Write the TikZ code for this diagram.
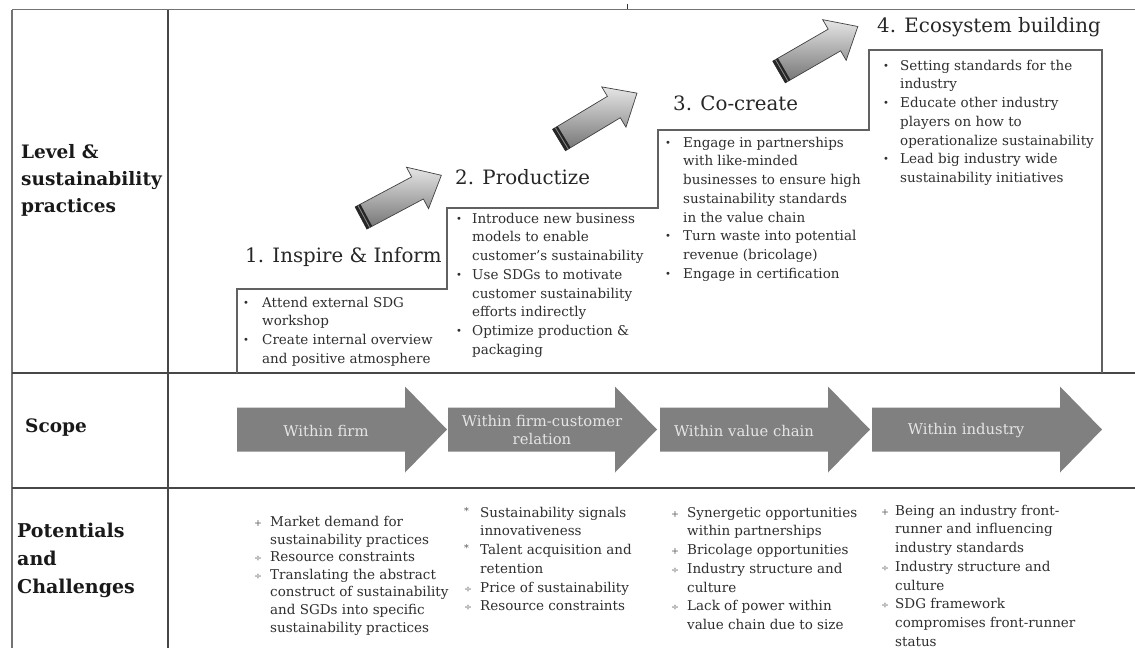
\documentclass[tikz,border=0pt]{standalone}
\usepackage{fontspec}
\setmainfont{DejaVu Serif}
\newcommand\bu[1]{\makebox[#1pt][l]{\raisebox{0.8pt}{\fontsize{10}{10}\selectfont •}}}
\newcommand\ix[1]{\hspace*{#1pt}}
\newcommand\bs[2]{\makebox[#1pt][l]{\hspace*{1pt}\color{black!65}\fontsize{9.5}{10}\selectfont #2}}
\begin{document}
\begin{tikzpicture}[x=1pt,y=-1pt,
  tbl/.style={line width=1.3pt, draw=black!55},
  heavyrule/.style={line width=2.4pt, draw=black!72},
  stair/.style={line width=1.1pt, draw=black!62},
  steptitle/.style={font=\fontsize{19.8}{24}\selectfont, text=black!85, inner sep=0pt, anchor=base west},
  blist/.style={font=\fontsize{13.5}{18.7}\selectfont, text=black!82, inner sep=0pt, anchor=north west},
  blistc/.style={font=\fontsize{13.5}{17.6}\selectfont, text=black!82, inner sep=0pt, anchor=north west},
  rowlabel/.style={font=\fontsize{18.5}{27}\selectfont\bfseries, text=black!90, inner sep=0pt, align=left, anchor=west},
  scopearrow/.style={fill=black!50},
  scopetext/.style={font=\fontsize{14.8}{18.5}\selectfont, text=white!90!black, align=center, inner sep=0pt},
  pics/diagarrow/.style={code={
    \shade[draw=black!75, line width=0.7pt, top color=white!90!black, bottom color=black!55]
      (0,-12.5) -- (64,-12.5) -- (64,-23.5) -- (91,0) -- (64,23.5) -- (64,12.5) -- (0,12.5) -- cycle;
    \fill[black!85] (0,-12.5) rectangle (6,12.5);
    \draw[black!45, line width=0.8pt] (3.2,-12.5) -- (3.2,12.5);
  }},
]
\useasboundingbox (0,0) rectangle (1135,648);

% table
\draw[tbl] (12,9.5) -- (1135,9.5);
\draw[tbl] (12,9.5) -- (12,648);
\draw[heavyrule] (168,9.5) -- (168,648);
\draw[heavyrule] (12,373) -- (1135,373);
\draw[heavyrule] (12,488) -- (1135,488);
\draw[black!80, line width=1pt] (627,4) -- (627,9);

% row labels
\node[rowlabel] (lab1) at (21,180) {Level \&\\sustainability\\practices};
\node[rowlabel] (lab2) at (25,428) {Scope};
\node[rowlabel, font=\fontsize{19}{28}\selectfont\bfseries] (lab3) at (17,560) {Potentials\\and\\Challenges};

% staircase
\draw[stair] (237,373) -- (237,289) -- (447,289) -- (447,208) -- (658,208) -- (658,130)
  -- (869,130) -- (869,50) -- (1102,50) -- (1102,373);

% step titles
\node[steptitle] (t1) at (245,262) {1. Inspire \& Inform};
\node[steptitle] (t2) at (455,184) {2. Productize};
\node[steptitle] (t3) at (673,110) {3. Co-create};
\node[steptitle] (t4) at (877,32) {4. Ecosystem building};

% diagonal arrows
\path (361,218) pic[rotate=28] {diagarrow};
\path (559,140) pic[rotate=31] {diagarrow};
\path (779,72) pic[rotate=30] {diagarrow};

% step lists
\node[blist] (l1) at (243,294) {\begin{tabular}{@{}l@{}}
\bu{19}Attend external SDG\\ \ix{19}workshop\\
\bu{19}Create internal overview\\ \ix{19}and positive atmosphere\end{tabular}};
\node[blist] (l2) at (456,210) {\begin{tabular}{@{}l@{}}
\bu{16}Introduce new business\\ \ix{16}models to enable\\ \ix{16}customer’s sustainability\\
\bu{16}Use SDGs to motivate\\ \ix{16}customer sustainability\\ \ix{16}efforts indirectly\\
\bu{16}Optimize production \&\\ \ix{16}packaging\end{tabular}};
\node[blist] (l3) at (665,134) {\begin{tabular}{@{}l@{}}
\bu{18}Engage in partnerships\\ \ix{18}with like-minded\\ \ix{18}businesses to ensure high\\ \ix{18}sustainability standards\\ \ix{18}in the value chain\\
\bu{18}Turn waste into potential\\ \ix{18}revenue (bricolage)\\
\bu{18}Engage in certification\end{tabular}};
\node[blist] (l4) at (883,57) {\begin{tabular}{@{}l@{}}
\bu{17}Setting standards for the\\ \ix{17}industry\\
\bu{17}Educate other industry\\ \ix{17}players on how to\\ \ix{17}operationalize sustainability\\
\bu{17}Lead big industry wide\\ \ix{17}sustainability initiatives\end{tabular}};

% scope arrows
\fill[scopearrow] (237,407.5) -- (405,407.5) -- (405,386.5) -- (447,429.5) -- (405,472.5) -- (405,451.5) -- (237,451.5) -- cycle;
\fill[scopearrow] (448,407.5) -- (615,407.5) -- (615,386.5) -- (657,429.5) -- (615,472.5) -- (615,451.5) -- (448,451.5) -- cycle;
\fill[scopearrow] (660,407.5) -- (828,407.5) -- (828,386.5) -- (870,429.5) -- (828,472.5) -- (828,451.5) -- (660,451.5) -- cycle;
\fill[scopearrow] (872,407.5) -- (1060,407.5) -- (1060,386.5) -- (1102,429.5) -- (1060,472.5) -- (1060,451.5) -- (872,451.5) -- cycle;
\node[scopetext] (s1) at (326,431) {Within firm};
\node[scopetext] (s2) at (542,430) {Within firm-customer\\relation};
\node[scopetext] (s3) at (744,431) {Within value chain};
\node[scopetext] (s4) at (966,431) {Within industry};

% potentials and challenges
\node[blistc] (p1) at (253,514) {\begin{tabular}{@{}l@{}}
\bs{17}{+}Market demand for\\ \ix{17}sustainability practices\\
\bs{17}{÷}Resource constraints\\
\bs{17}{÷}Translating the abstract\\ \ix{17}construct of sustainability\\ \ix{17}and SGDs into specific\\ \ix{17}sustainability practices\end{tabular}};
\node[blist] (p2) at (463,504) {\begin{tabular}{@{}l@{}}
\bs{17}{\raisebox{3pt}{*}}Sustainability signals\\ \ix{17}innovativeness\\
\bs{17}{\raisebox{3pt}{*}}Talent acquisition and\\ \ix{17}retention\\
\bs{17}{÷}Price of sustainability\\
\bs{17}{÷}Resource constraints\end{tabular}};
\node[blist] (p3) at (670,504) {\begin{tabular}{@{}l@{}}
\bs{17}{+}Synergetic opportunities\\ \ix{17}within partnerships\\
\bs{17}{+}Bricolage opportunities\\
\bs{17}{÷}Industry structure and\\ \ix{17}culture\\
\bs{17}{÷}Lack of power within\\ \ix{17}value chain due to size\end{tabular}};
\node[blist] (p4) at (880,502) {\begin{tabular}{@{}l@{}}
\bs{15}{+}Being an industry front-\\ \ix{15}runner and influencing\\ \ix{15}industry standards\\
\bs{15}{÷}Industry structure and\\ \ix{15}culture\\
\bs{15}{÷}SDG framework\\ \ix{15}compromises front-runner\\ \ix{15}status\end{tabular}};
\end{tikzpicture}
\end{document}
